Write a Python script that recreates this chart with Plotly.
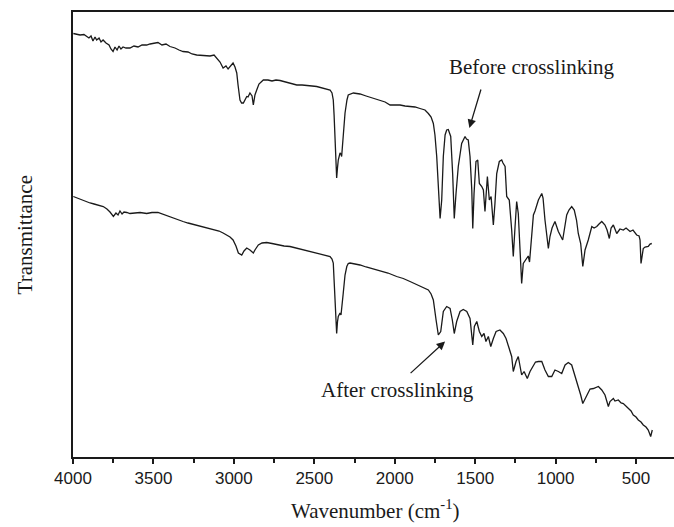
import plotly.graph_objects as go

# FTIR spectra of the film before and after crosslinking (transmittance, arbitrary units)
wn_before = [3998, 3975, 3956, 3932, 3915, 3901, 3888, 3876, 3863, 3853, 3838, 3826, 3813, 3795,
             3776, 3764, 3751, 3739, 3726, 3714, 3702, 3689, 3671, 3646, 3621, 3596, 3571, 3542,
             3521, 3496, 3472, 3447, 3422, 3397, 3366, 3341, 3316, 3285, 3260, 3231, 3204, 3179,
             3148, 3123, 3107, 3086, 3067, 3049, 3036, 3024, 3005, 2993, 2982, 2974, 2962, 2952,
             2941, 2920, 2912, 2900, 2887, 2879, 2869, 2858, 2844, 2817, 2788, 2763, 2738, 2713,
             2676, 2651, 2609, 2576, 2539, 2514, 2485, 2452, 2421, 2402, 2390, 2382, 2377, 2371,
             2365, 2361, 2356, 2351, 2340, 2334, 2330, 2322, 2309, 2297, 2289, 2257, 2216, 2178,
             2133, 2091, 2060, 2029, 1998, 1967, 1936, 1905, 1874, 1843, 1812, 1791, 1774, 1760,
             1750, 1739, 1729, 1718, 1708, 1698, 1687, 1677, 1667, 1652, 1640, 1630, 1619, 1605,
             1584, 1563, 1554, 1543, 1532, 1521, 1515, 1507, 1495, 1484, 1474, 1459, 1449, 1439,
             1424, 1412, 1401, 1387, 1377, 1366, 1350, 1335, 1327, 1314, 1304, 1288, 1273, 1263,
             1252, 1242, 1232, 1221, 1211, 1201, 1184, 1170, 1162, 1148, 1138, 1128, 1107, 1086,
             1078, 1066, 1045, 1035, 1022, 1004, 983, 956, 944, 931, 917, 900, 884, 870,
             859, 844, 831, 817, 797, 775, 761, 744, 730, 713, 693, 680, 666, 655,
             641, 620, 600, 579, 562, 537, 519, 496, 481, 475, 469, 455, 444, 424,
             413, 402]
t_before = [84.7, 84.6, 84.4, 84.5, 84.1, 83.8, 84.2, 83.2, 84.0, 83.4, 83.8, 83.0, 83.4, 82.8,
            82.4, 81.6, 81.1, 82.0, 81.4, 82.2, 81.6, 82.0, 81.8, 81.8, 82.2, 82.0, 82.4, 82.4,
            82.6, 82.7, 82.9, 82.4, 82.6, 82.1, 81.8, 81.4, 81.1, 81.0, 80.6, 80.4, 80.3, 80.2,
            80.2, 80.4, 79.8, 79.0, 77.8, 78.2, 77.6, 78.1, 78.8, 78.0, 76.8, 74.4, 71.4, 70.8,
            70.8, 72.1, 72.0, 72.8, 72.2, 70.4, 72.4, 73.4, 74.6, 75.4, 75.4, 75.2, 75.4, 75.3,
            75.0, 74.7, 74.4, 74.4, 74.2, 74.2, 74.1, 73.8, 73.6, 73.4, 72.8, 71.4, 68.4, 62.1,
            57.4, 55.8, 57.8, 59.4, 60.8, 60.6, 60.1, 63.4, 68.8, 71.4, 72.4, 72.8, 72.6, 72.2,
            71.8, 71.3, 71.0, 70.4, 70.4, 70.4, 70.2, 70.1, 70.0, 69.7, 69.4, 68.7, 68.0, 66.7,
            64.4, 60.1, 53.4, 47.7, 51.4, 60.1, 64.4, 65.4, 65.5, 64.1, 56.7, 47.7, 52.7, 58.1,
            62.7, 64.1, 63.6, 63.4, 60.1, 53.4, 45.7, 52.7, 59.1, 59.4, 54.7, 54.1, 53.4, 49.1,
            56.1, 51.4, 52.1, 46.4, 50.7, 56.7, 59.1, 59.4, 58.8, 58.1, 52.1, 51.4, 45.4, 40.1,
            46.1, 51.1, 48.7, 40.1, 34.7, 38.7, 39.4, 40.2, 39.0, 45.0, 48.4, 49.2, 51.4, 52.7,
            51.8, 47.4, 41.7, 44.1, 45.8, 47.1, 45.1, 43.4, 45.8, 48.4, 49.4, 50.1, 49.4, 47.4,
            44.7, 42.7, 38.1, 41.4, 43.4, 46.1, 45.8, 46.1, 46.6, 47.1, 46.4, 45.4, 43.7, 45.8,
            46.4, 44.7, 45.6, 45.4, 45.8, 45.1, 45.4, 44.4, 44.2, 43.4, 38.7, 41.7, 42.0, 42.1,
            42.6, 42.7]

wn_after = [3998, 3975, 3956, 3938, 3915, 3894, 3869, 3845, 3812, 3789, 3770, 3749, 3733, 3720,
            3708, 3695, 3683, 3666, 3646, 3615, 3583, 3542, 3509, 3472, 3447, 3422, 3397, 3366,
            3341, 3316, 3285, 3260, 3231, 3204, 3179, 3148, 3117, 3092, 3067, 3043, 3024, 3005,
            2987, 2972, 2962, 2951, 2937, 2920, 2900, 2879, 2869, 2848, 2825, 2796, 2763, 2726,
            2688, 2651, 2614, 2576, 2527, 2485, 2452, 2421, 2402, 2390, 2382, 2377, 2371, 2365,
            2361, 2356, 2351, 2340, 2334, 2320, 2309, 2298, 2289, 2278, 2236, 2216, 2178, 2135,
            2091, 2042, 1988, 1947, 1905, 1868, 1843, 1818, 1791, 1774, 1760, 1743, 1729, 1714,
            1698, 1677, 1656, 1642, 1630, 1615, 1594, 1574, 1552, 1532, 1521, 1515, 1505, 1490,
            1474, 1459, 1445, 1433, 1418, 1403, 1387, 1370, 1346, 1325, 1308, 1294, 1273, 1263,
            1246, 1232, 1221, 1211, 1196, 1184, 1176, 1159, 1138, 1125, 1107, 1086, 1066, 1045,
            1024, 1004, 983, 962, 941, 921, 900, 879, 859, 844, 831, 817, 797, 786,
            765, 734, 713, 693, 672, 662, 641, 631, 610, 593, 579, 562, 548, 531,
            517, 500, 486, 469, 455, 438, 424, 409, 399]
t_after = [52.1, 51.8, 51.6, 51.4, 51.1, 50.8, 50.6, 50.4, 50.1, 49.6, 49.0, 48.1, 48.8, 48.4,
           49.2, 48.6, 49.0, 48.9, 48.7, 48.8, 48.9, 48.7, 48.9, 48.9, 48.6, 48.4, 48.1, 47.6,
           47.4, 47.1, 46.8, 46.6, 46.4, 46.2, 46.0, 45.7, 45.4, 45.2, 44.8, 44.4, 44.0, 43.4,
           42.2, 40.8, 40.6, 40.4, 41.2, 41.8, 41.4, 40.8, 41.4, 42.4, 42.8, 42.9, 42.7, 42.4,
           42.2, 42.1, 41.8, 41.5, 41.1, 40.8, 40.6, 40.3, 40.1, 39.6, 38.8, 35.4, 30.1, 26.4,
           24.7, 27.0, 28.1, 28.8, 28.4, 32.8, 36.4, 38.1, 38.7, 38.8, 38.6, 38.4, 38.0, 37.6,
           37.3, 36.8, 36.1, 35.7, 35.1, 34.6, 34.1, 33.8, 33.4, 32.6, 31.4, 27.4, 24.4, 25.1,
           29.1, 30.1, 29.7, 27.4, 24.7, 27.1, 29.1, 29.5, 29.1, 27.7, 24.7, 22.4, 26.1, 27.1,
           25.1, 24.1, 24.7, 23.1, 24.1, 22.1, 23.7, 25.1, 25.4, 24.7, 23.7, 22.4, 20.1, 17.1,
           19.1, 20.1, 18.1, 16.4, 17.1, 16.4, 15.7, 17.1, 18.4, 19.0, 19.1, 19.1, 17.4, 16.1,
           16.1, 17.4, 17.1, 16.7, 18.4, 18.9, 18.4, 16.1, 14.4, 12.4, 10.7, 11.7, 13.1, 13.6,
           13.7, 14.1, 13.4, 12.4, 10.1, 11.1, 11.7, 11.2, 11.4, 10.8, 10.7, 10.2, 9.7, 9.2,
           8.4, 8.0, 7.4, 7.0, 6.4, 6.0, 5.4, 4.1, 5.4]

major_ticks = [4000, 3500, 3000, 2500, 2000, 1500, 1000, 500]
x_range = [4000, 264]
y_range = [0, 89]

serif = "Liberation Serif, Times New Roman, serif"
sans = "Liberation Sans, Arial, sans-serif"
ink = "#1a1a1a"

fig = go.Figure()
fig.add_trace(go.Scatter(x=wn_before, y=t_before, mode="lines",
                         line=dict(color=ink, width=1.3), name="Before crosslinking"))
fig.add_trace(go.Scatter(x=wn_after, y=t_after, mode="lines",
                         line=dict(color=ink, width=1.3), name="After crosslinking"))

fig.update_layout(
    width=674, height=527,
    margin=dict(l=73, r=0, t=12, b=70),
    paper_bgcolor="white", plot_bgcolor="white",
    showlegend=False,
    xaxis=dict(
        range=x_range, tickvals=major_ticks,
        ticks="outside", ticklen=5, tickwidth=1.5, tickcolor=ink,
        minor=dict(ticks="outside", ticklen=4, tickwidth=1.5, tickcolor=ink, dtick=250, showgrid=False),
        showline=True, linecolor=ink, linewidth=2, mirror=True,
        showgrid=False, zeroline=False,
        tickfont=dict(family=sans, size=17, color=ink),
    ),
    yaxis=dict(
        range=y_range, showticklabels=False, ticks="",
        showline=True, linecolor=ink, linewidth=2, mirror=False,
        showgrid=False, zeroline=False,
    ),
    annotations=[
        dict(text="Wavenumber (cm<sup>-1</sup>)", xref="paper", yref="paper",
             x=0.5025, y=-0.118, xanchor="center", yanchor="middle", showarrow=False,
             font=dict(family=serif, size=21, color=ink)),
        dict(text="Transmittance", xref="paper", yref="paper", textangle=-90,
             x=-0.08, y=0.5, xanchor="center", yanchor="middle", showarrow=False,
             font=dict(family=serif, size=21, color=ink)),
        dict(text="Before crosslinking", x=1147, y=78, xanchor="center", yanchor="middle",
             showarrow=False, font=dict(family=serif, size=21, color=ink)),
        dict(text="", x=1536, y=65.8, ax=12, ay=-40, showarrow=True,
             arrowhead=2, arrowsize=1.3, arrowwidth=1.3, arrowcolor=ink),
        dict(text="After crosslinking", x=1980, y=13.4, xanchor="center", yanchor="middle",
             showarrow=False, font=dict(family=serif, size=21, color=ink)),
        dict(text="", x=1687, y=23.1, ax=-36, ay=33, showarrow=True,
             arrowhead=2, arrowsize=1.3, arrowwidth=1.3, arrowcolor=ink),
    ],
)

fig.write_html("out.html")
